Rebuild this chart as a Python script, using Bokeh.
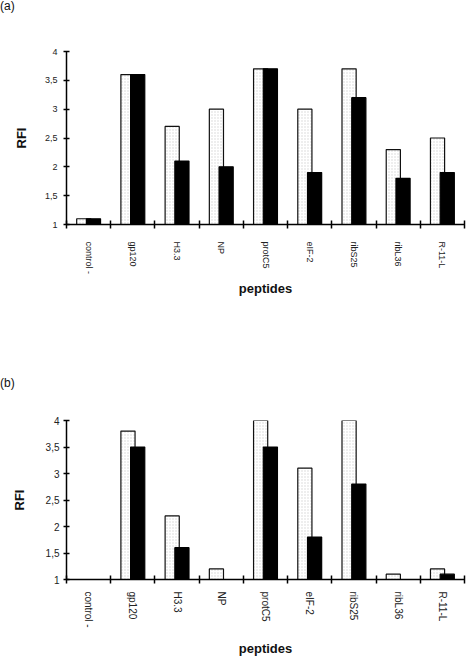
from bokeh.plotting import figure
from bokeh.layouts import column
from bokeh.models import Range1d, FixedTicker, Div
from bokeh.embed import file_html
from bokeh.resources import INLINE

peptides = ["control -", "gp120", "H3.3", "NP", "protC5", "eIF-2", "ribS25", "ribL36", "R-11-L"]
a_white = [1.1, 3.6, 2.7, 3.0, 3.7, 3.0, 3.7, 2.3, 2.5]
a_black = [1.1, 3.6, 2.1, 2.0, 3.7, 1.9, 3.2, 1.8, 1.9]
b_white = [None, 3.8, 2.2, 1.2, 4.0, 3.1, 4.0, 1.1, 1.2]
b_black = [None, 3.5, 1.6, None, 3.5, 1.8, 2.8, None, 1.1]
y_ticks = [1, 1.5, 2, 2.5, 3, 3.5, 4]
y_tick_labels = ["1", "1,5", "2", "2,5", "3", "3,5", "4"]

FONT = "Liberation Sans"


def make_panel(white, black, height, border, fs, x_std, x_lab_std, y_std, y_lab_std):
    left, right, top, bottom = border
    p = figure(width=474, height=height, x_range=Range1d(0, 9), y_range=Range1d(1, 4),
               output_backend="svg", toolbar_location=None,
               min_border_left=left, min_border_right=right,
               min_border_top=top, min_border_bottom=bottom)
    p.outline_line_color = None
    p.xgrid.visible = False
    p.ygrid.visible = False

    centers = [i + 0.5 for i in range(len(peptides))]
    wx = [c - 0.11 for c, v in zip(centers, white) if v is not None]
    wv = [v for v in white if v is not None]
    bx = [c + 0.11 for c, v in zip(centers, black) if v is not None]
    bv = [v for v in black if v is not None]
    p.vbar(x=wx, top=wv, bottom=1, width=0.32, fill_color="#ffffff",
           hatch_pattern="dot", hatch_color="#d4d4d4", hatch_scale=3, hatch_weight=1,
           line_color="#111111", line_width=1.2)
    p.vbar(x=bx, top=bv, bottom=1, width=0.32, fill_color="#000000",
           line_color="#000000", line_width=1.2)

    # x axis
    xa = p.xaxis[0]
    xa.ticker = FixedTicker(ticks=centers, minor_ticks=list(range(0, 10)))
    xa.major_label_overrides = {c: n for c, n in zip(centers, peptides)}
    xa.major_label_orientation = "vertical"
    xa.major_tick_in = 0
    xa.major_tick_out = 0
    xa.minor_tick_in = 4
    xa.minor_tick_out = 4
    xa.minor_tick_line_color = "#000000"
    xa.minor_tick_line_width = 1.5
    xa.axis_line_width = 1.5
    xa.axis_line_color = "#000000"
    xa.major_label_standoff = x_std
    xa.major_label_text_font = FONT
    xa.major_label_text_font_size = fs
    xa.major_label_text_color = "#222222"
    xa.axis_label = "peptides"
    xa.axis_label_text_font = FONT
    xa.axis_label_text_font_style = "bold"
    xa.axis_label_text_font_size = "13px"
    xa.axis_label_standoff = x_lab_std
    xa.axis_label_text_color = "#111111"

    # y axis
    ya = p.yaxis[0]
    ya.ticker = FixedTicker(ticks=y_ticks, minor_ticks=[])
    ya.major_label_overrides = {t: l for t, l in zip(y_ticks, y_tick_labels)}
    ya.major_tick_in = 3
    ya.major_tick_out = 3
    ya.major_tick_line_width = 1.5
    ya.axis_line_width = 1.5
    ya.axis_line_color = "#000000"
    ya.major_label_standoff = y_std
    ya.major_label_text_font = FONT
    ya.major_label_text_font_size = fs
    ya.major_label_text_color = "#222222"
    ya.axis_label = "RFI"
    ya.axis_label_text_font = FONT
    ya.axis_label_text_font_style = "bold"
    ya.axis_label_text_font_size = "13px"
    ya.axis_label_standoff = y_lab_std
    ya.axis_label_text_color = "#111111"
    return p


def tag_div(tag, pad, height):
    return Div(text=tag, width=474, height=height, margin=(0, 0, 0, 0),
               styles={"font-family": FONT, "font-size": "12px", "line-height": "12px",
                       "color": "#111111", "padding-top": f"{pad}px",
                       "box-sizing": "border-box"})


da = tag_div("(a)", 0, 14)
pa = make_panel(a_white, a_black, 329 - 14, (66, 0, 51 - 14, 105),
                "9px", 13, 4, 6, 13)
db = tag_div("(b)", 48, 62)
pb = make_panel(b_white, b_black, 329 - 62, (65, 10, 91 - 62, 69),
                "10px", 8, 10, 4, 16)

layout = column(da, pa, db, pb, spacing=0)
open("out.html", "w").write(file_html(layout, INLINE))
